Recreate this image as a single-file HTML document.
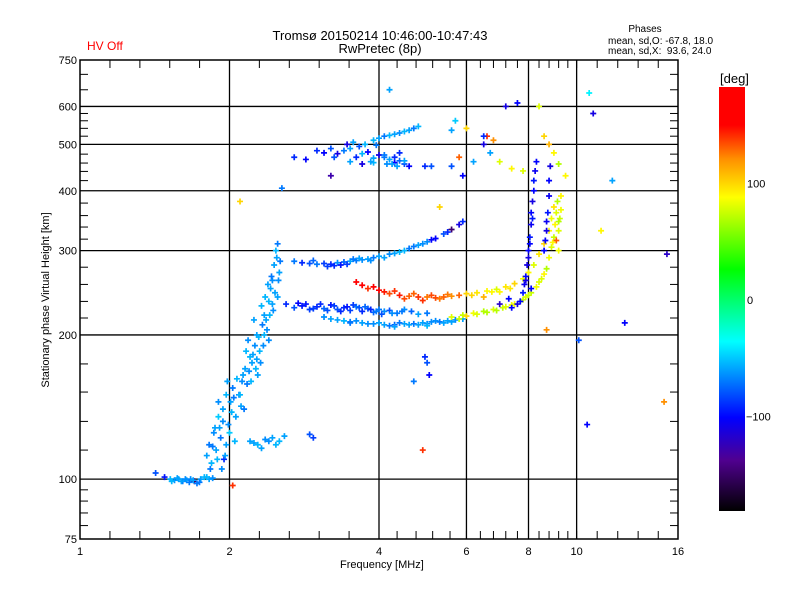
<!DOCTYPE html>
<html><head><meta charset="utf-8"><style>
body{margin:0;background:#fff;}
svg{display:block;font-family:"Liberation Sans",sans-serif;}
</style></head><body>
<svg id="chart" width="800" height="600" viewBox="0 0 800 600">
<rect width="800" height="600" fill="#fff"/>
<text x="87" y="50" font-size="12" fill="#ff0000">HV Off</text>
<text x="380" y="40" font-size="13" text-anchor="middle">Tromsø 20150214 10:46:00-10:47:43</text>
<text x="380" y="53" font-size="13" text-anchor="middle">RwPretec (8p)</text>
<text x="645" y="32" font-size="10" text-anchor="middle">Phases</text>
<text x="608" y="44" font-size="10">mean, sd,O: -67.8, 18.0</text>
<text x="608" y="54" font-size="10" xml:space="preserve">mean, sd,X:  93.6, 24.0</text>
<text x="340" y="568" font-size="11">Frequency [MHz]</text>
<text transform="translate(49,300) rotate(-90)" font-size="11" text-anchor="middle">Stationary phase Virtual Height [km]</text>
<text x="720" y="83" font-size="13">[deg]</text>
<defs><linearGradient id="cg" x1="0" y1="0" x2="0" y2="1">
<stop offset="0" stop-color="#ff0000"/><stop offset="0.09" stop-color="#ff0000"/>
<stop offset="0.17" stop-color="#ff9000"/><stop offset="0.26" stop-color="#ffff00"/>
<stop offset="0.43" stop-color="#00ff00"/><stop offset="0.6" stop-color="#00ffff"/>
<stop offset="0.78" stop-color="#0000ff"/><stop offset="0.88" stop-color="#500090"/>
<stop offset="1" stop-color="#000000"/></linearGradient></defs>
<rect x="719" y="87" width="26" height="424" fill="url(#cg)"/>
<g id="cbl" font-size="11"></g>
<g id="grid"></g><g id="marks"></g><g id="axes"></g>
</svg>
<script>
// ---- data ----
const xMajor=[2,4,6,8,10];
const xLabels=[1,2,4,6,8,10,16];
const xMinor=[1.149,1.32,1.516,1.741,2.297,2.639,3.031,3.482,4.35,4.75,5.13,5.56,6.4,6.8,7.2,7.6,8.4,8.8,9.2,9.6,11,12.1,13.3,14.6];
const yMajor=[100,200,300,400,500,600];
const yLabels=[75,100,200,300,400,500,600,750];
const yMinor=[80,85,90,95,115,132,152,174,217,235,255,277,317,336,355,377,420,439,457,477,520,540,560,580,650,700];
const cbTicks=[100,0,-100];

const eFreq=[1.42,1.48,1.52,1.55,1.58,1.61,1.64,1.67,1.70,1.72,1.75,1.78,1.82,1.85,1.60,1.66,1.53,1.57,1.63,1.69,1.74,1.80];
const eHeight=[103,101,100,99.5,100,99,99.5,100,99,98,100,101,100,100.5,99,98.5,99,100.5,100,99.5,98.5,101];
const ePhase=[-80,-95,-55,-65,-60,-70,-60,-65,-150,-70,-60,-55,-60,-65,-60,-70,-55,-60,-65,-60,-70,-55];

const rise1Freq=[1.80,1.82,1.84,1.86,1.88,1.90,1.92,1.94,1.95,1.97,1.99,2.01,2.03,2.05,1.87,1.93,1.98,2.02,1.85,1.96,2.00,1.90,2.06,1.83,1.89,1.91,1.94,2.04,2.07,1.97,2.09,2.11];
const rise1Height=[112,118,108,125,115,135,122,140,110,150,130,145,155,120,128,105,160,138,117,112,125,145,135,105,110,128,132,148,162,118,150,142];
const rise1Phase=[-60,-70,-55,-65,-60,-50,-70,-60,-90,-55,-65,-60,-70,-55,-60,-65,-60,-55,-70,-60,-50,-65,-60,-70,-55,-60,-65,-70,-55,-60,-65,-60];

const rise2Freq=[2.10,2.12,2.15,2.17,2.20,2.22,2.25,2.27,2.30,2.33,2.35,2.38,2.40,2.42,2.44,2.46,2.48,2.50,2.52,2.18,2.28,2.36,2.45,2.49,2.14,2.24,2.32,2.40,2.47,2.53,2.21,2.31,2.39,2.43,2.50,2.26,2.13,2.16,2.19,2.23,2.29,2.34,2.37,2.41,2.44,2.51,2.27,2.35];
const rise2Height=[150,160,170,158,180,175,190,200,185,210,220,205,235,250,260,280,300,310,270,195,165,240,225,290,140,215,230,195,245,285,160,175,255,265,240,170,165,185,168,182,198,190,215,220,232,260,178,200];
const rise2Phase=[-55,-65,-60,-70,-55,-60,-65,-60,-55,-70,-60,-65,-55,-60,-65,-60,-55,-70,-60,-65,-60,-55,-65,-60,-70,-60,-55,-65,-60,-70,-55,-65,-60,-70,-60,-55,-60,-55,-65,-60,-55,-65,-60,-55,-60,-65,-60,-55];

const lowFreq=[2.20,2.28,2.36,2.44,2.52,2.58,2.90,2.95,2.32,2.48,2.24,2.40];
const lowHeight=[120,118,121,122,120,123,124,122,116,118,119,120];
const lowPhase=[-60,-55,-65,-60,-55,-60,-80,-85,-60,-55,-60,-65];

const bandAFreq=[2.6,2.7,2.8,2.9,3.0,3.1,3.2,3.3,3.4,3.5,3.6,3.7,3.8,3.9,4.0,4.1,4.2,4.35,4.5,4.65,4.8,5.0,2.75,3.05,3.25,3.45,3.65,3.85,2.85,2.95,3.15,3.35,3.55,3.75,3.95,4.05,4.25,4.45];
const bandAHeight=[232,228,230,226,229,227,231,226,228,225,229,224,227,223,226,224,225,222,226,224,221,222,233,232,230,229,228,226,232,227,225,224,231,229,224,221,222,224];
const bandAPhase=[-90,-80,-95,-85,-90,-75,-95,-80,-90,-85,-70,-90,-80,-75,-70,-65,-80,-70,-65,-75,-60,-70,-100,-90,-85,-95,-80,-90,-95,-85,-80,-90,-85,-75,-70,-80,-65,-70];

const bandBFreq=[3.1,3.3,3.5,3.7,3.9,4.1,4.3,4.5,4.7,4.9,5.1,5.3,5.5,5.7,5.9,3.4,3.8,4.2,4.6,5.0,5.4,3.2,3.6,4.0,4.4,4.8,5.2,5.6,3.5,4.3,5.0];
const bandBHeight=[218,215,213,212,211,210,210,211,211,212,213,213,214,215,216,214,211,209,210,211,212,216,214,212,212,210,214,213,212,208,209];
const bandBPhase=[-65,-60,-70,-60,-65,-60,-75,-60,-70,-60,-65,-70,-60,-65,-60,-55,-65,-70,-60,-65,-60,-60,-65,-60,-70,-60,-65,-60,-70,-60,-55];

const oFreq=[5.6,5.9,6.2,6.5,6.8,7.1,7.4,7.7,7.9,8.1,8.3,8.5,8.7,8.8,8.9,9.0,9.05,9.1,9.15,9.2,9.2,9.25,9.3,6.0,6.6,7.2,7.8,8.6,9.1,9.3,5.8,6.3,6.9,7.5,8.0,8.4,8.95,9.2];
const oHeight=[218,220,222,224,226,228,231,235,240,245,252,262,275,290,305,320,340,360,380,300,330,350,390,219,223,229,237,268,315,365,216,221,225,232,242,258,312,345];
const oPhase=[80,75,85,70,80,75,85,70,80,75,85,80,70,85,80,75,90,80,70,85,80,75,90,100,70,80,75,90,130,85,75,80,70,85,75,80,90,70];

const orFreq=[3.6,3.8,4.0,4.2,4.4,4.6,4.8,5.0,5.2,5.4,5.6,5.8,3.7,4.1,4.5,4.9,5.3,3.9,4.3,4.7,5.1,5.5];
const orHeight=[258,250,248,244,242,241,240,240,239,240,241,242,254,246,238,236,238,252,247,244,242,243];
const orPhase=[150,140,155,135,145,130,140,125,135,130,120,130,160,145,135,140,125,150,140,130,135,125];

const yelFreq=[6.0,6.3,6.6,6.9,7.2,7.5,7.8,8.0,8.2,8.4,8.6,8.8,8.9,9.0,6.5,7.0,6.15,6.75,7.35];
const yelHeight=[244,245,247,249,252,256,262,270,280,295,310,330,350,370,240,246,242,246,250];
const yelPhase=[100,95,90,80,95,100,85,90,80,95,100,90,85,95,110,90,100,90,95];

const xFreq=[7.4,7.6,7.7,7.8,7.85,7.9,7.95,8.0,8.05,8.1,8.1,8.15,8.2,8.2,8.25,8.3,8.6,8.7,8.75,8.8,8.8,8.85,7.0,7.3,8.0,8.1,7.9,8.05,8.15,8.7,8.65];
const xHeight=[228,232,235,245,255,265,280,300,320,340,360,380,400,420,440,460,300,330,360,390,420,450,232,238,290,250,260,310,350,345,315];
const xPhase=[-100,-110,-100,-95,-105,-100,-110,-100,-95,-105,-100,-110,-100,-95,-105,-100,-100,-110,-95,-105,-100,-110,-120,-100,-110,-100,-110,-100,-95,-105,-100];

const upFreq=[2.7,2.8,2.9,3.0,3.1,3.2,3.3,3.4,3.5,3.6,3.7,3.8,3.9,4.0,4.2,4.4,4.6,4.8,5.0,5.2,5.4,5.6,5.8,5.9,3.15,3.35,3.55,4.1,4.5,4.9,2.95,3.25,3.45,3.65,3.85,4.3,4.7,5.1,5.5];
const upHeight=[285,283,282,281,282,281,283,284,285,286,287,288,290,292,295,298,303,308,313,318,325,332,340,345,278,280,288,290,300,310,286,279,281,289,286,296,306,316,328];
const upPhase=[-70,-90,-80,-70,-85,-90,-65,-75,-60,-70,-65,-60,-70,-60,-65,-55,-70,-60,-65,-100,-80,-150,-110,-90,-85,-95,-70,-60,-55,-65,-75,-90,-85,-60,-65,-60,-70,-100,-90];

const topFreq=[3.0,3.1,3.2,3.3,3.4,3.5,3.6,3.7,3.8,3.9,4.0,4.1,4.2,4.3,4.4,4.5,3.5,3.7,3.9,4.1,4.3,4.5,3.9,4.0,4.1,4.2,4.3,4.4,4.5,4.6,4.7,4.8,5.6,5.7,2.7,2.85,3.45,3.65,4.25,4.95,3.55,3.75,3.95,4.15,4.35,4.6,4.4,3.85,3.25];
const topHeight=[485,480,490,478,485,490,470,478,482,468,475,470,465,458,462,455,460,455,458,475,470,462,510,515,520,522,525,528,532,535,540,545,535,560,470,465,500,495,455,450,505,500,498,455,450,450,480,460,470];
const topPhase=[-90,-100,-80,-110,-70,-60,-90,-55,-100,-60,-110,-70,-60,-100,-75,-80,-60,-110,-55,-70,-90,-60,-55,-60,-70,-55,-60,-65,-55,-60,-70,-55,-60,-50,-90,-100,-110,-80,-60,-90,-60,-55,-70,-65,-60,-100,-90,-60,-80];

const scatFreq=[5.6,5.8,5.9,6.5,6.6,6.7,6.8,7.0,7.4,7.6,8.4,8.6,8.8,9.0,9.2,9.5,10.6,10.8,11.2,11.8,12.5,15.2,4.95,5.0,5.05,4.7,4.9,2.55,2.1,3.2,4.2,5.1,5.3,6.2,7.8,8.7,10.1,10.5,15.0,2.03,6.0,6.5,7.2];
const scatHeight=[450,470,430,500,520,480,510,460,445,610,600,520,500,480,455,430,640,580,330,420,212,295,180,175,165,160,115,405,380,430,650,450,370,460,440,205,195,130,145,97,540,520,600];
const scatPhase=[-80,130,-100,-110,140,-60,120,80,90,-100,80,100,110,90,70,90,-40,-110,90,-60,-100,-120,-90,-80,-100,-70,140,-70,100,-130,-60,-80,100,-60,80,120,-80,-100,120,140,100,-90,-110];

const series=[[eFreq,eHeight,ePhase],[rise1Freq,rise1Height,rise1Phase],[rise2Freq,rise2Height,rise2Phase],[lowFreq,lowHeight,lowPhase],[bandAFreq,bandAHeight,bandAPhase],[bandBFreq,bandBHeight,bandBPhase],[upFreq,upHeight,upPhase],[topFreq,topHeight,topPhase],[orFreq,orHeight,orPhase],[yelFreq,yelHeight,yelPhase],[oFreq,oHeight,oPhase],[xFreq,xHeight,xPhase],[scatFreq,scatHeight,scatPhase]];
const seriesNames=['e-trace','e-rise','f1-rise','low-cluster','f2-band-a','f2-band-b','second-hop','top-cluster','orange-band','yellow-band','o-trace','x-trace','scatter'];

// ---- scales ----
const L=80,R=678,T=60,B=539;
function xs(f){return L+(R-L)*Math.log2(f)/4;}
function ys(h){return B-(B-T)*Math.log10(h/75);}
function cbY(p){return 300-p*1.165;}
const stops=[[181,[255,0,0]],[150,[255,0,0]],[120,[255,144,0]],[88,[255,255,0]],[27,[0,255,0]],[-37,[0,255,255]],[-100,[0,0,255]],[-140,[80,0,144]],[-181,[0,0,0]]];
function col(p){
  for(let i=0;i<stops.length-1;i++){const a=stops[i],b=stops[i+1];
    if(p<=a[0]&&p>=b[0]){const t=(a[0]-p)/(a[0]-b[0]);const c=a[1].map((v,k)=>Math.round(v+(b[1][k]-v)*t));return 'rgb('+c.join(',')+')';}}
  return p>0?'rgb(255,0,0)':'rgb(0,0,0)';
}
const NS='http://www.w3.org/2000/svg';
function mk(tag,attrs,parent){const e=document.createElementNS(NS,tag);for(const k in attrs)e.setAttribute(k,attrs[k]);parent.appendChild(e);return e;}
const grid=document.getElementById('grid'),marks=document.getElementById('marks'),axes=document.getElementById('axes'),cbl=document.getElementById('cbl');

xMajor.forEach(f=>{const l=mk('line',{x1:xs(f),x2:xs(f),y1:T,y2:B,stroke:'#000','stroke-width':1.3},grid);

});
yMajor.forEach(h=>{const l=mk('line',{x1:L,x2:R,y1:ys(h),y2:ys(h),stroke:'#000','stroke-width':1.3},grid);

});

series.forEach((s,si)=>{
  const g=mk('g',{},marks);
  
  
  s[0].forEach((f,i)=>{
    const x=xs(f),y=ys(s[1][i]),c=col(s[2][i]);
    const p=mk('path',{d:'M'+(x-3)+' '+y+'h6M'+x+' '+(y-3)+'v6',stroke:c,'stroke-width':1.7,fill:'none'},g);
    
    
  });
});

const frame=mk('rect',{x:L,y:T,width:R-L,height:B-T,fill:'none',stroke:'#000','stroke-width':1.5},axes);


xMinor.concat(xMajor).forEach(f=>{const x=xs(f);
  const t1=mk('line',{x1:x,x2:x,y1:T,y2:T+8,stroke:'#000'},axes);
  
  
  const t2=mk('line',{x1:x,x2:x,y1:B,y2:B-8,stroke:'#000'},axes);
  
  });
yMinor.forEach(h=>{const y=ys(h);
  const t1=mk('line',{x1:L,x2:L+8,y1:y,y2:y,stroke:'#000'},axes);
  
  
  const t2=mk('line',{x1:R,x2:R-8,y1:y,y2:y,stroke:'#000'},axes);
  
  });
xLabels.forEach(f=>{const t=mk('text',{x:xs(f),y:B+16,'font-size':11,'text-anchor':'middle'},axes);t.textContent=f;
  
  });
yLabels.forEach(h=>{const t=mk('text',{x:L-3,y:ys(h)+4,'font-size':11,'text-anchor':'end'},axes);t.textContent=h;
  
  });
cbTicks.forEach(p=>{const t=mk('text',{x:p<0?746:747,y:cbY(p)+4,'font-size':11},cbl);t.textContent=p<0?'\u2212'+(-p):p;
  
  });
</script>
</body></html>
